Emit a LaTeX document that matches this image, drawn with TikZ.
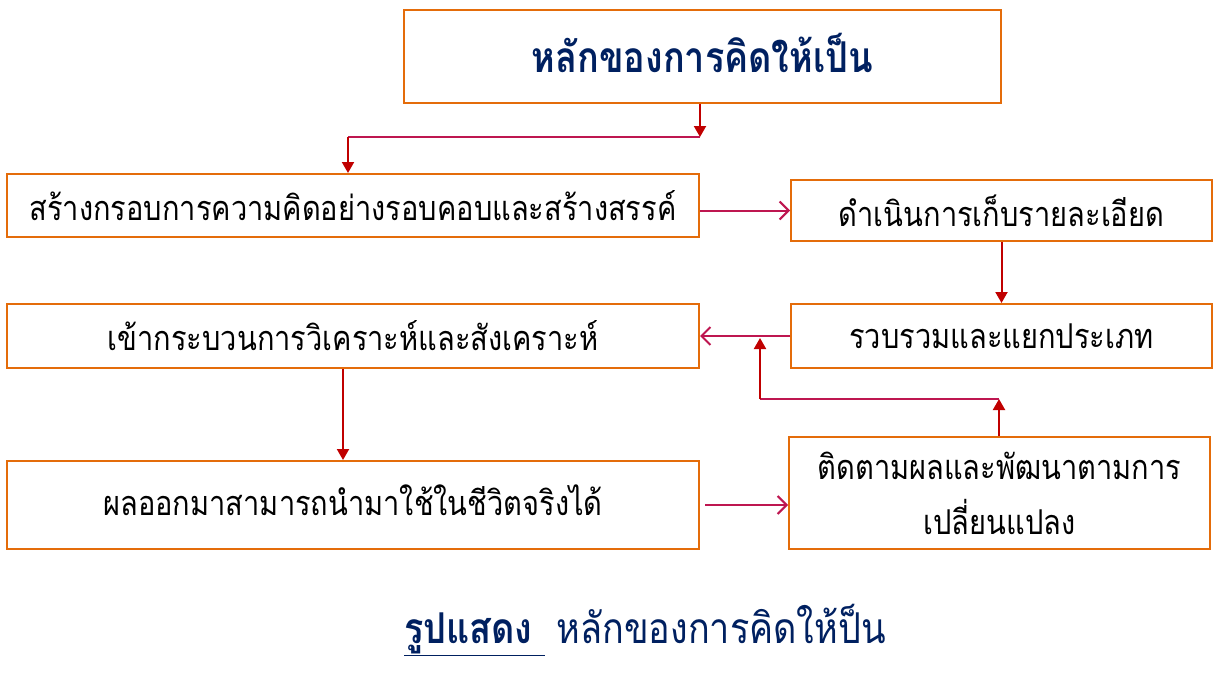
\documentclass[tikz,border=0pt]{standalone}
\usepackage{fontspec}
\newfontfamily\thai[Script=Thai]{Loma}
\usetikzlibrary{arrows.meta}
\definecolor{boxor}{HTML}{E46C0A}
\definecolor{crim}{HTML}{BE1650}
\definecolor{dred}{HTML}{C00000}
\definecolor{navy}{HTML}{002060}
\newcommand{\tallt}[1]{\scalebox{1}[1.18]{#1}}
\tikzset{
  box/.style={draw=boxor, line width=2pt, inner sep=0pt, align=center, text=black,
    font=\thai\fontsize{29}{55}\selectfont},
  redarr/.style={draw=dred, line width=2pt, -{Triangle[length=11pt,width=12pt]}},
  crimline/.style={draw=crim, line width=2pt},
  openarr/.style={draw=crim, line width=2pt, -{Straight Barb[length=9pt,width=18pt]}}
}
\begin{document}
\begin{tikzpicture}[x=1pt,y=-1pt]
\useasboundingbox (0,0) rectangle (1213,699);
\node[box, minimum width=597pt, minimum height=93pt, text=navy,
  font=\thai\bfseries\fontsize{36}{40}\selectfont] (T) at (702.5,56.5) {\raisebox{7pt}{\tallt{หลักของการคิดให้เป็น}}};
\node[box, minimum width=692pt, minimum height=63pt] (B1) at (353,205.5) {\tallt{สร้างกรอบการความคิดอย่างรอบคอบและสร้างสรรค์}};
\node[box, minimum width=421pt, minimum height=61pt] (B2) at (1001.5,210.5) {\tallt{ดำเนินการเก็บรายละเอียด}};
\node[box, minimum width=692pt, minimum height=64pt] (B3) at (353,336) {\tallt{เข้ากระบวนการวิเคราะห์และสังเคราะห์}};
\node[box, minimum width=421pt, minimum height=64pt] (B4) at (1001.5,336) {\tallt{รวบรวมและแยกประเภท}};
\node[box, minimum width=692pt, minimum height=88pt] (B5) at (353,505) {\raisebox{10pt}{\tallt{ผลออกมาสามารถนำมาใช้ในชีวิตจริงได้}}};
\node[box, minimum width=421pt, minimum height=112pt] (B6) at (999.5,493) {\tallt{ติดตามผลและพัฒนาตามการ}\\\tallt{เปลี่ยนแปลง}};
\node[anchor=west, inner sep=0pt, text=navy, font=\thai\fontsize{36}{40}\selectfont] (cap) at (404,630)
  {\underline{\tallt{\textbf{รูปแสดง}}\ }\ \tallt{หลักของการคิดให้ป็น}};
\coordinate (j1) at (700,137);
\coordinate (j2) at (348,137);
\coordinate (j3) at (999,399);
\coordinate (j4) at (760,399);
\coordinate (j5) at (760,338);
\draw[redarr] (T.south -| j1) -- (j1);
\draw[crimline] (j1) -- (j2);
\draw[redarr] (j2) -- (j2 |- B1.north);
\draw[openarr] (B1.east |- B2.west) -- (B2.west);
\draw[redarr] (B2.south) -- (B4.north);
\draw[openarr] (B4.west) -- (B3.east |- B4.west);
\draw[redarr] (B6.north -| j3) -- (j3);
\draw[crimline] (j3) -- (j4);
\draw[redarr] (j4) -- (j5);
\draw[redarr] ([xshift=-10pt]B3.south) -- ([xshift=-10pt]B5.north);
\draw[openarr] ([xshift=5pt]B5.east) -- (B6.west |- B5.east);
\end{tikzpicture}
\end{document}
